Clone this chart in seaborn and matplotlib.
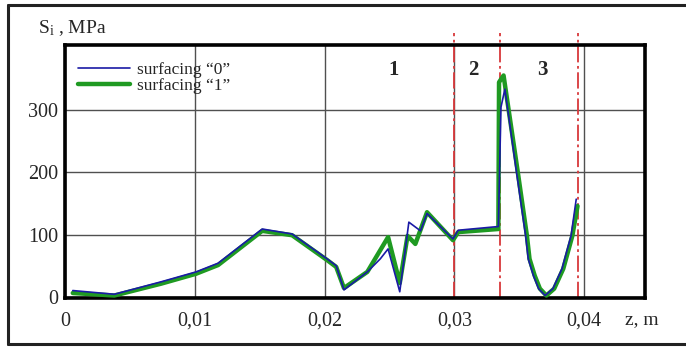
import numpy as np
import pandas as pd
import matplotlib
matplotlib.use("Agg")
import matplotlib.pyplot as plt
import seaborn as sns
from matplotlib.lines import Line2D

# ---- data ----
z0 = [0.0006, 0.0038, 0.0074, 0.0101, 0.0118, 0.0152, 0.0175, 0.0202, 0.0209, 0.0215,
      0.0233, 0.0243, 0.0249, 0.0258, 0.0265, 0.0274, 0.0279, 0.0299, 0.0303, 0.0334,
      0.0336, 0.0339, 0.0348, 0.0355, 0.0357, 0.0361, 0.0365, 0.0370, 0.0376, 0.0383,
      0.0390, 0.0394]
s0 = [10, 4, 24, 40, 54, 109, 101, 61, 50, 11,
      40, 61, 77, 8, 120, 106, 134, 93, 107, 113,
      305, 334, 200, 98, 61, 34, 13, 2, 13, 45,
      98, 157]

z1 = [0.0006, 0.0038, 0.0074, 0.0101, 0.0118, 0.0152, 0.0175, 0.0202, 0.0209, 0.0215,
      0.0233, 0.0249, 0.0258, 0.0264, 0.0270, 0.0279, 0.0299, 0.0303, 0.0334, 0.03345,
      0.0338, 0.0349, 0.0356, 0.0358, 0.0362, 0.0366, 0.0371, 0.0377, 0.0384, 0.0391,
      0.0395]
s1 = [6, 2, 21, 37, 51, 106, 99, 59, 48, 14,
      40, 96, 22, 98, 85, 136, 91, 104, 109, 345,
      356, 200, 98, 61, 34, 13, 2, 13, 45, 98,
      146]

series_labels = ["surfacing \u201c0\u201d", "surfacing \u201c1\u201d"]
zone_bounds = [0.0300, 0.0335, 0.0395]
zone_names = ["1", "2", "3"]
zone_label_x = [0.0253, 0.0315, 0.0368]
xtick_vals = [0, 0.01, 0.02, 0.03, 0.04]
xtick_labels = ["0", "0,01", "0,02", "0,03", "0,04"]
ytick_vals = [0, 100, 200, 300]
ytick_labels = ["0", "100", "200", "300"]

df0 = pd.DataFrame({"z": z0, "S": s0})
df1 = pd.DataFrame({"z": z1, "S": s1})

sns.set_style("white")
plt.rcParams["font.family"] = ["Liberation Serif", "DejaVu Serif"]
plt.rcParams["mathtext.fontset"] = "custom"
plt.rcParams["mathtext.rm"] = "Liberation Serif"
plt.rcParams["mathtext.it"] = "Liberation Serif:italic"

fig = plt.figure(figsize=(6.86, 3.47), dpi=100)
ax = fig.add_axes([65/686, 1-298/347, (645-65)/686, (298-45)/347])

blue = "#1a1aa6"
green = "#1f9a22"
red = "#d8383a"

sns.lineplot(data=df1, x="z", y="S", ax=ax, color=green, linewidth=3.2,
             sort=False, estimator=None, label=series_labels[1], zorder=3)
sns.lineplot(data=df0, x="z", y="S", ax=ax, color=blue, linewidth=1.2,
             sort=False, estimator=None, label=series_labels[0], zorder=4)

ax.set_xlim(0, 0.0447)
ax.set_ylim(-2, 405)

ax.set_xticks(xtick_vals)
ax.set_xticklabels(xtick_labels)
ax.set_yticks(ytick_vals)
ax.set_yticklabels(ytick_labels)
ax.tick_params(axis="x", length=0, pad=10, labelsize=14.5)
ax.tick_params(axis="y", length=0, pad=5, labelsize=14.5)
ax.set_xlabel("")
ax.set_ylabel("")

ax.grid(True, color="#505050", linewidth=1.0)
ax.set_axisbelow(True)
for sp in ax.spines.values():
    sp.set_visible(True)
    sp.set_color("black")
    sp.set_linewidth(2.6)

# zone boundaries
for xb in zone_bounds:
    ax.add_line(Line2D([xb, xb], [-2, 425], color=red, linewidth=1.3,
                       linestyle=(0, (9, 2, 1.5, 2)), clip_on=False, zorder=2))
for xl, nm in zip(zone_label_x, zone_names):
    ax.text(xl, 365, nm, ha="center", va="center", fontsize=15, fontweight="bold")

# legend
h0 = Line2D([], [], color=blue, linewidth=1.2)
h1 = Line2D([], [], color=green, linewidth=3.2)
ax.legend([h0, h1], series_labels, loc="upper left",
          bbox_to_anchor=(78/686, 1-62/347), bbox_transform=fig.transFigure,
          frameon=False, fontsize=12.5, handlelength=3.0, handletextpad=0.4,
          labelspacing=0.0, borderpad=0, borderaxespad=0)

# axis labels
fig.text(38/686, 1-28/347, r"S$_{\rm i}$ , MPa", fontsize=14, ha="left", va="center")
fig.text(625/686, 1-320/347, "z, m", fontsize=14, ha="left", va="center")

# outer frame
fig.add_artist(Line2D([8/686, 8/686], [3/347, 1-5/347], color="#222222", linewidth=2.2,
                      transform=fig.transFigure))
fig.add_artist(Line2D([8/686, 1.0], [1-5/347, 1-5/347], color="#222222", linewidth=2.2,
                      transform=fig.transFigure))
fig.add_artist(Line2D([8/686, 1.0], [3/347, 3/347], color="#222222", linewidth=2.2,
                      transform=fig.transFigure))

fig.savefig("out.png", dpi=100)
